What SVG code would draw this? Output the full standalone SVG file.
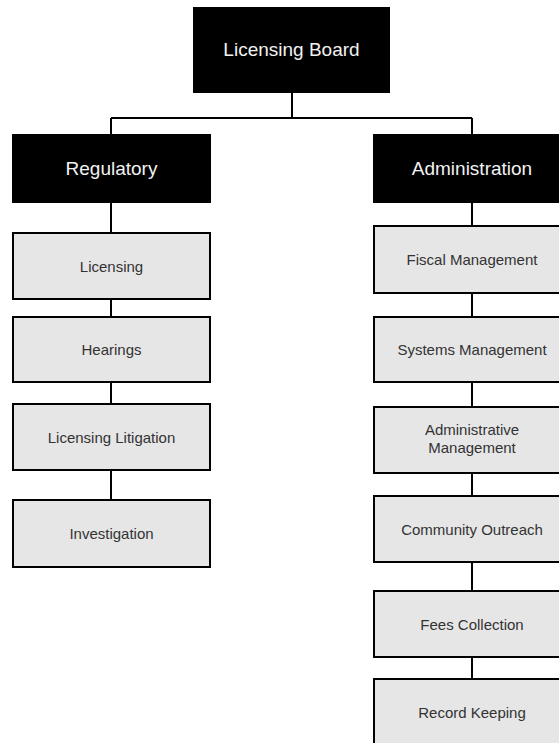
<svg xmlns="http://www.w3.org/2000/svg" width="559" height="743" viewBox="0 0 559 743">
<style>
.hd{fill:#000}
.hdt{fill:#f2f2f2;font-family:"Liberation Sans",Arial,sans-serif;font-size:19px;text-anchor:middle}
.bx{fill:#e6e6e6;stroke:#000;stroke-width:2}
.bxt{fill:#333;font-family:"Liberation Sans",Arial,sans-serif;font-size:15px;text-anchor:middle}
.ln{stroke:#000;stroke-width:2;fill:none}
</style>
<rect width="559" height="743" fill="#fff"/>
<g id="connectors">
<path class="ln" d="M292 93V118M111 118H472M111 118V134M472 118V134"/>
<path class="ln" d="M111 203V232M111 300V316M111 383V403M111 471V499"/>
<path class="ln" d="M472 203V225M472 294V316M472 383V406M472 474V495M472 563V590M472 658V678"/>
</g>
<g id="licensing-board"><rect class="hd" x="193" y="7" width="197" height="86"/><text class="hdt" x="291.5" y="56">Licensing Board</text></g>
<g id="regulatory"><rect class="hd" x="12" y="134" width="199" height="69"/><text class="hdt" x="111.5" y="175">Regulatory</text></g>
<g id="administration"><rect class="hd" x="373" y="134" width="199" height="69"/><text class="hdt" x="472" y="175">Administration</text></g>
<g id="licensing"><rect class="bx" x="13" y="233" width="197" height="66"/><text class="bxt" x="111.5" y="271.5">Licensing</text></g>
<g id="hearings"><rect class="bx" x="13" y="317" width="197" height="65"/><text class="bxt" x="111.5" y="355">Hearings</text></g>
<g id="licensing-litigation"><rect class="bx" x="13" y="404" width="197" height="66"/><text class="bxt" x="111.5" y="442.5">Licensing Litigation</text></g>
<g id="investigation"><rect class="bx" x="13" y="500" width="197" height="67"/><text class="bxt" x="111.5" y="538.5">Investigation</text></g>
<g id="fiscal-management"><rect class="bx" x="374" y="226" width="197" height="67"/><text class="bxt" x="472" y="264.5">Fiscal Management</text></g>
<g id="systems-management"><rect class="bx" x="374" y="317" width="197" height="65"/><text class="bxt" x="472" y="355">Systems Management</text></g>
<g id="administrative-management"><rect class="bx" x="374" y="407" width="197" height="66"/><text class="bxt" x="472" y="435">Administrative</text><text class="bxt" x="472" y="453">Management</text></g>
<g id="community-outreach"><rect class="bx" x="374" y="496" width="197" height="66"/><text class="bxt" x="472" y="534.5">Community Outreach</text></g>
<g id="fees-collection"><rect class="bx" x="374" y="591" width="197" height="66"/><text class="bxt" x="472" y="629.5">Fees Collection</text></g>
<g id="record-keeping"><rect class="bx" x="374" y="679" width="197" height="67"/><text class="bxt" x="472" y="717.5">Record Keeping</text></g>
</svg>
